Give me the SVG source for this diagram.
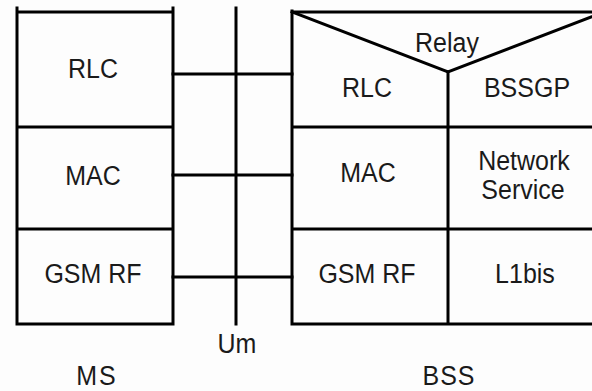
<svg xmlns="http://www.w3.org/2000/svg" width="592" height="391" viewBox="0 0 592 391">
<style>
.ln{stroke:#000;stroke-width:3;fill:none;stroke-linecap:square}
.t{font-family:"Liberation Sans",Arial,sans-serif;font-size:25px;fill:#1a1a1a;text-anchor:middle}
</style>
<rect width="592" height="391" fill="#fdfdfd"/>
<g id="ms">
  <path class="ln" d="M17,8 V324 M173,8 V324 M17,12 H173 M17,127 H173 M17,229 H173 M17,324 H173"/>
  <g id="ms-rlc"><text class="t" transform="translate(93,78) scale(1,1.12)">RLC</text></g>
  <g id="ms-mac"><text class="t" transform="translate(93,185) scale(1,1.12)">MAC</text></g>
  <g id="ms-rf"><text class="t" transform="translate(93,283) scale(1,1.12)">GSM RF</text></g>
  <text class="t" transform="translate(97,385) scale(1,1.1)" letter-spacing="2">MS</text>
</g>
<g id="um">
  <path class="ln" d="M236,8 V324"/>
  <text class="t" transform="translate(237,353) scale(1,1.12)">Um</text>
</g>
<g id="bss">
  <path class="ln" d="M292,11 V324 M292,12 H600 M292,127 H600 M292,229 H600 M292,324 H600 M448,72 V324"/>
  <path class="ln" d="M292,12 L448,72 L604,12" stroke-linejoin="miter"/>
  <g id="relay"><text class="t" transform="translate(447,52) scale(1,1.12)">Relay</text></g>
  <g id="bss-rlc"><text class="t" transform="translate(367,97) scale(1,1.12)">RLC</text></g>
  <g id="bssgp"><text class="t" transform="translate(527,97) scale(1,1.12)">BSSGP</text></g>
  <g id="bss-mac"><text class="t" transform="translate(368,182) scale(1,1.12)">MAC</text></g>
  <g id="ns"><text class="t" transform="translate(524,170) scale(1,1.12)">Network</text><text class="t" transform="translate(523,199) scale(1,1.12)">Service</text></g>
  <g id="bss-rf"><text class="t" transform="translate(367,283) scale(1,1.12)">GSM RF</text></g>
  <g id="l1bis"><text class="t" transform="translate(525,283) scale(1,1.12)">L1bis</text></g>
  <text class="t" transform="translate(449,385) scale(1,1.1)" letter-spacing="1">BSS</text>
</g>
<g id="connectors">
  <path class="ln" d="M173,74 H292 M173,175 H292 M173,277 H292"/>
</g>
</svg>
